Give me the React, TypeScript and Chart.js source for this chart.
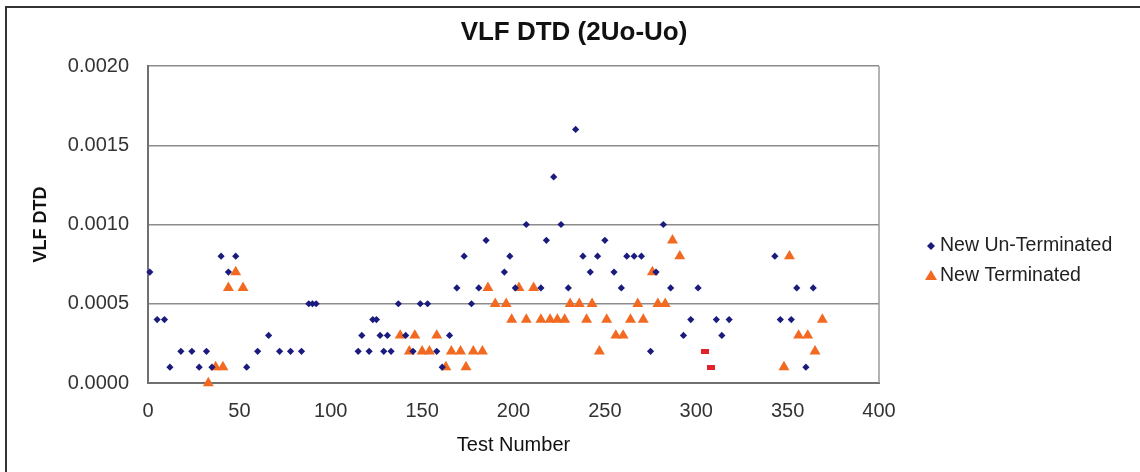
import React, { useEffect, useRef } from "react";
import { Chart, registerables } from "chart.js";

Chart.register(...registerables);

// ---- data ----
const chartTitle = "VLF DTD (2Uo-Uo)";
const xAxisTitle = "Test Number";
const yAxisTitle = "VLF DTD";
const seriesNames = ["New Un-Terminated", "New Terminated"];

const unTermX = [1, 5, 9, 12, 18, 24, 28, 32, 35, 40, 44, 48, 54, 60, 66, 72, 78, 84, 88, 90, 92,
  115, 117, 121, 123, 125, 127, 129, 131, 133, 137, 141, 145, 149, 153, 158, 161, 165, 169, 173,
  177, 181, 185, 195, 198, 201, 207, 215, 218, 222, 226, 230, 234, 238, 242, 246, 250, 255, 259,
  262, 266, 270, 275, 278, 282, 286, 293, 297, 301, 311, 314, 318, 343, 346, 352, 355, 360, 364];
const unTermY = [0.0007, 0.0004, 0.0004, 0.0001, 0.0002, 0.0002, 0.0001, 0.0002, 0.0001, 0.0008,
  0.0007, 0.0008, 0.0001, 0.0002, 0.0003, 0.0002, 0.0002, 0.0002, 0.0005, 0.0005, 0.0005,
  0.0002, 0.0003, 0.0002, 0.0004, 0.0004, 0.0003, 0.0002, 0.0003, 0.0002, 0.0005, 0.0003, 0.0002,
  0.0005, 0.0005, 0.0002, 0.0001, 0.0003, 0.0006, 0.0008,
  0.0005, 0.0006, 0.0009, 0.0007, 0.0008, 0.0006, 0.0010, 0.0006, 0.0009, 0.0013, 0.0010, 0.0006,
  0.0016, 0.0008, 0.0007, 0.0008, 0.0009, 0.0007, 0.0006,
  0.0008, 0.0008, 0.0008, 0.0002, 0.0007, 0.0010, 0.0006, 0.0003, 0.0004, 0.0006, 0.0004, 0.0003,
  0.0004, 0.0008, 0.0004, 0.0004, 0.0006, 0.0001, 0.0006];

const termX = [33, 37, 41, 44, 48, 52, 138, 143, 146, 150, 154, 158, 163, 166, 171, 174, 178, 183,
  186, 190, 196, 199, 203, 207, 211, 215, 220, 224, 228, 231, 236, 240, 243, 247, 251, 256, 260,
  264, 268, 271, 276, 279, 283, 287, 291, 348, 351, 356, 361, 365, 369];
const termY = [0.0000, 0.0001, 0.0001, 0.0006, 0.0007, 0.0006, 0.0003, 0.0002, 0.0003, 0.0002,
  0.0002, 0.0003, 0.0001, 0.0002, 0.0002, 0.0001, 0.0002, 0.0002,
  0.0006, 0.0005, 0.0005, 0.0004, 0.0006, 0.0004, 0.0006, 0.0004, 0.0004, 0.0004, 0.0004, 0.0005,
  0.0005, 0.0004, 0.0005, 0.0002, 0.0004, 0.0003, 0.0003,
  0.0004, 0.0005, 0.0004, 0.0007, 0.0005, 0.0005, 0.0009, 0.0008, 0.0001, 0.0008, 0.0003, 0.0003,
  0.0002, 0.0004];

const otherX = [305, 308];
const otherY = [0.0002, 0.0001];

const yTickValues = [0, 0.0005, 0.001, 0.0015, 0.002];
const xTickValues = [0, 50, 100, 150, 200, 250, 300, 350, 400];

// ---- styles ----
const FONT = '"Liberation Sans", Arial, sans-serif';
const NAVY = "#1b1b7e";
const ORANGE = "#f26a21";
const RED = "#e3212b";

function makeRedMarker() {
  const c = document.createElement("canvas");
  c.width = 8;
  c.height = 5;
  const g = c.getContext("2d")!;
  g.fillStyle = RED;
  g.fillRect(0, 0, 8, 5);
  return c;
}

const decorPlugin = {
  id: "decor",
  beforeDraw(chart: any) {
    const ctx = chart.ctx;
    ctx.save();
    ctx.fillStyle = "#ffffff";
    ctx.fillRect(0, 0, chart.width, chart.height);
    // outer frame
    ctx.strokeStyle = "#333333";
    ctx.lineWidth = 2;
    ctx.beginPath();
    ctx.moveTo(6, chart.height);
    ctx.lineTo(6, 7);
    ctx.lineTo(chart.width, 7);
    ctx.stroke();
    ctx.restore();
  },
  beforeDatasetsDraw(chart: any) {
    const ctx = chart.ctx;
    const a = chart.chartArea;
    ctx.save();
    ctx.strokeStyle = "#999999";
    ctx.lineWidth = 1.5;
    ctx.beginPath();
    ctx.moveTo(a.right, a.top);
    ctx.lineTo(a.right, a.bottom);
    ctx.stroke();
    ctx.restore();
  },
  afterDraw(chart: any) {
    const ctx = chart.ctx;
    ctx.save();
    // title
    ctx.fillStyle = "#111111";
    ctx.font = `bold 26px ${FONT}`;
    ctx.textAlign = "center";
    ctx.textBaseline = "middle";
    ctx.fillText(chartTitle, 574, 33);
    // legend
    ctx.font = `19.5px ${FONT}`;
    ctx.textAlign = "left";
    const rows = [246, 276];
    // diamond
    ctx.fillStyle = NAVY;
    ctx.beginPath();
    ctx.moveTo(931, rows[0] - 4);
    ctx.lineTo(935, rows[0]);
    ctx.lineTo(931, rows[0] + 4);
    ctx.lineTo(927, rows[0]);
    ctx.closePath();
    ctx.fill();
    // triangle
    ctx.fillStyle = ORANGE;
    ctx.beginPath();
    ctx.moveTo(931, rows[1] - 6);
    ctx.lineTo(937, rows[1] + 4);
    ctx.lineTo(925, rows[1] + 4);
    ctx.closePath();
    ctx.fill();
    ctx.fillStyle = "#222222";
    ctx.fillText(seriesNames[0], 940, rows[0]);
    ctx.fillText(seriesNames[1], 940, rows[1]);
    ctx.restore();
  },
};

export default function App() {
  const ref = useRef<HTMLCanvasElement | null>(null);

  useEffect(() => {
    document.body.style.margin = "0";
    const canvas = ref.current!;
    const chart = new Chart(canvas, {
      type: "scatter",
      data: {
        datasets: [
          {
            label: seriesNames[0],
            data: unTermX.map((x, i) => ({ x, y: unTermY[i] })),
            pointStyle: "rectRot",
            pointRadius: 3.6,
            backgroundColor: NAVY,
            borderColor: NAVY,
            borderWidth: 0,
            clip: false as any,
          },
          {
            label: seriesNames[1],
            data: termX.map((x, i) => ({ x, y: termY[i] })),
            pointStyle: "triangle",
            pointRadius: 6.3,
            backgroundColor: ORANGE,
            borderColor: ORANGE,
            borderWidth: 0,
            clip: false as any,
          },
          {
            label: "Other",
            data: otherX.map((x, i) => ({ x, y: otherY[i] })),
            pointStyle: makeRedMarker() as any,
            pointRadius: 4,
            backgroundColor: RED,
            borderColor: RED,
            borderWidth: 0,
            clip: false as any,
          },
        ],
      },
      options: {
        responsive: false,
        animation: false,
        devicePixelRatio: 1,
        layout: { padding: { top: 66, right: 261, left: 0, bottom: 0 } },
        plugins: {
          legend: { display: false },
          title: { display: false },
          tooltip: { enabled: false },
        },
        scales: {
          x: {
            type: "linear",
            min: 0,
            max: 400,
            afterBuildTicks: (s: any) => {
              s.ticks = xTickValues.map((v) => ({ value: v }));
            },
            afterFit: (s: any) => {
              s.height = 89;
            },
            grid: { display: false, drawTicks: false },
            border: { display: true, color: "#707070", width: 2 },
            ticks: {
              padding: 16,
              color: "#333333",
              font: { family: FONT, size: 20 },
              maxRotation: 0,
              callback: (v: any) => String(v),
            },
            title: {
              display: true,
              text: xAxisTitle,
              color: "#111111",
              font: { family: FONT, size: 20 },
              padding: { top: 0, bottom: 15 },
            },
          },
          y: {
            type: "linear",
            min: 0,
            max: 0.002,
            afterBuildTicks: (s: any) => {
              s.ticks = yTickValues.map((v) => ({ value: v }));
            },
            afterFit: (s: any) => {
              s.width = 148;
            },
            grid: { color: "#8c8c8c", lineWidth: 1.5, drawTicks: false },
            border: { display: true, color: "#707070", width: 2 },
            ticks: {
              padding: 19,
              color: "#333333",
              font: { family: FONT, size: 20 },
              callback: (v: any) => Number(v).toFixed(4),
            },
            title: {
              display: true,
              text: yAxisTitle,
              color: "#111111",
              font: { family: FONT, size: 18, weight: "bold" },
              padding: { top: 30, bottom: 0 },
            },
          },
        },
      },
      plugins: [decorPlugin],
    });
    return () => chart.destroy();
  }, []);

  return (
    <div style={{ width: 1140, height: 472, position: "relative" }}>
      <canvas ref={ref} width={1140} height={472} style={{ width: 1140, height: 472, display: "block" }} />
    </div>
  );
}
